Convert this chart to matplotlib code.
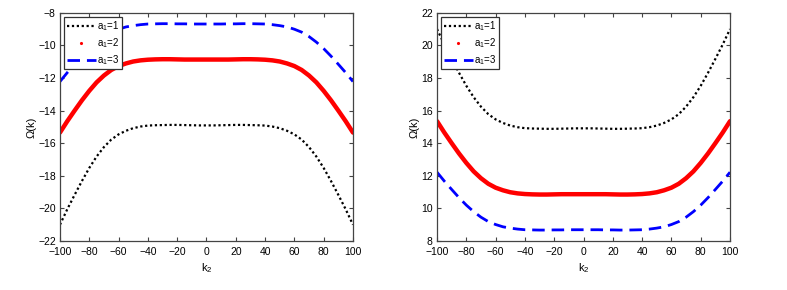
import numpy as np
import matplotlib
matplotlib.use('Agg')
import matplotlib.pyplot as plt
from matplotlib.lines import Line2D

plt.rcParams['font.family'] = ['Liberation Sans', 'DejaVu Sans']
plt.rcParams['mathtext.fontset'] = 'custom'
plt.rcParams['mathtext.rm'] = 'Liberation Sans'
plt.rcParams['mathtext.it'] = 'Liberation Sans'

# k2 from -100 to 0 in steps of 5 (curves are symmetric about k2 = 0)
k_half = [-100, -95, -90, -85, -80, -75, -70, -65, -60, -55, -50,
          -45, -40, -35, -30, -25, -20, -15, -10, -5, 0]

# left panel, Omega(k)
left_a1 = [-21.0, -20.05, -19.17, -18.32, -17.52, -16.82, -16.24, -15.78, -15.46, -15.24, -15.08,
           -14.98, -14.92, -14.9, -14.89, -14.88, -14.88, -14.89, -14.9, -14.91, -14.91]
left_a2 = [-15.35, -14.65, -14.0, -13.37, -12.79, -12.27, -11.85, -11.51, -11.27, -11.11, -10.99,
           -10.92, -10.88, -10.86, -10.85, -10.85, -10.86, -10.87, -10.87, -10.87, -10.87]
left_a3 = [-12.22, -11.67, -11.16, -10.66, -10.2, -9.8, -9.46, -9.19, -9.01, -8.87, -8.79,
           -8.73, -8.69, -8.68, -8.67, -8.67, -8.68, -8.68, -8.69, -8.69, -8.69]

# right panel
right_a1 = [21.0, 20.05, 19.17, 18.32, 17.52, 16.82, 16.24, 15.78, 15.46, 15.24, 15.08,
            14.98, 14.92, 14.9, 14.89, 14.88, 14.88, 14.89, 14.9, 14.91, 14.91]
right_a2 = [15.35, 14.65, 14.0, 13.37, 12.79, 12.27, 11.85, 11.51, 11.27, 11.11, 10.99,
            10.92, 10.88, 10.86, 10.85, 10.85, 10.86, 10.87, 10.87, 10.87, 10.87]
right_a3 = [12.22, 11.67, 11.16, 10.66, 10.2, 9.8, 9.46, 9.19, 9.01, 8.87, 8.79,
            8.73, 8.69, 8.68, 8.67, 8.67, 8.68, 8.68, 8.69, 8.69, 8.69]

labels = [r'$\mathregular{a_1}$=1', r'$\mathregular{a_1}$=2', r'$\mathregular{a_1}$=3']


def full(half):
    # mirror the half curve onto k2 > 0
    return list(half) + list(half[-2::-1])


k = list(k_half) + [-v for v in k_half[-2::-1]]

fig = plt.figure(figsize=(7.87, 2.90), dpi=100)
ax1 = fig.add_axes([0.0762, 0.169, 0.3723, 0.787])
ax2 = fig.add_axes([0.5553, 0.169, 0.3723, 0.787])

dots = (0, (1, 1.2))
dashes = (0, (4.5, 2.5))


def draw(ax, a1, a2, a3, ylim, yticks):
    ax.plot(k, full(a2), color='red', lw=3.2, solid_capstyle='round', solid_joinstyle='round')
    ax.plot(k, full(a1), color='black', lw=1.6, linestyle=dots)
    ax.plot(k, full(a3), color='blue', lw=2.0, linestyle=dashes)
    ax.set_xlim(-100, 100)
    ax.set_ylim(*ylim)
    ax.set_xticks(range(-100, 101, 20))
    ax.set_yticks(yticks)
    ax.tick_params(direction='in', top=True, right=True, labelsize=7.5,
                   length=3, width=0.8, color='#444444')
    ax.tick_params(axis='x', pad=4)
    ax.tick_params(axis='y', pad=3)
    for s in ax.spines.values():
        s.set_color('#444444')
        s.set_linewidth(0.9)
    ax.set_xlabel(r'$\mathregular{k_2}$', fontsize=8, labelpad=3)
    ax.set_ylabel('\u03a9(k)', fontsize=8, labelpad=1)
    handles = [
        Line2D([], [], color='black', lw=1.6, linestyle=dots),
        Line2D([], [], color='red', linestyle='none', marker='.', markersize=2.5),
        Line2D([], [], color='blue', lw=2.0, linestyle=dashes),
    ]
    leg = ax.legend(handles, labels, loc='upper left', fontsize=7, handlelength=3.0,
                    handletextpad=0.1, borderpad=0.25, labelspacing=0.3,
                    fancybox=False, framealpha=1, borderaxespad=0.45)
    leg.get_frame().set_edgecolor('#333333')
    leg.get_frame().set_linewidth(0.9)


draw(ax1, left_a1, left_a2, left_a3, (-22, -8), range(-22, -7, 2))
draw(ax2, right_a1, right_a2, right_a3, (8, 22), range(8, 23, 2))

fig.savefig('out.png', dpi=100)
